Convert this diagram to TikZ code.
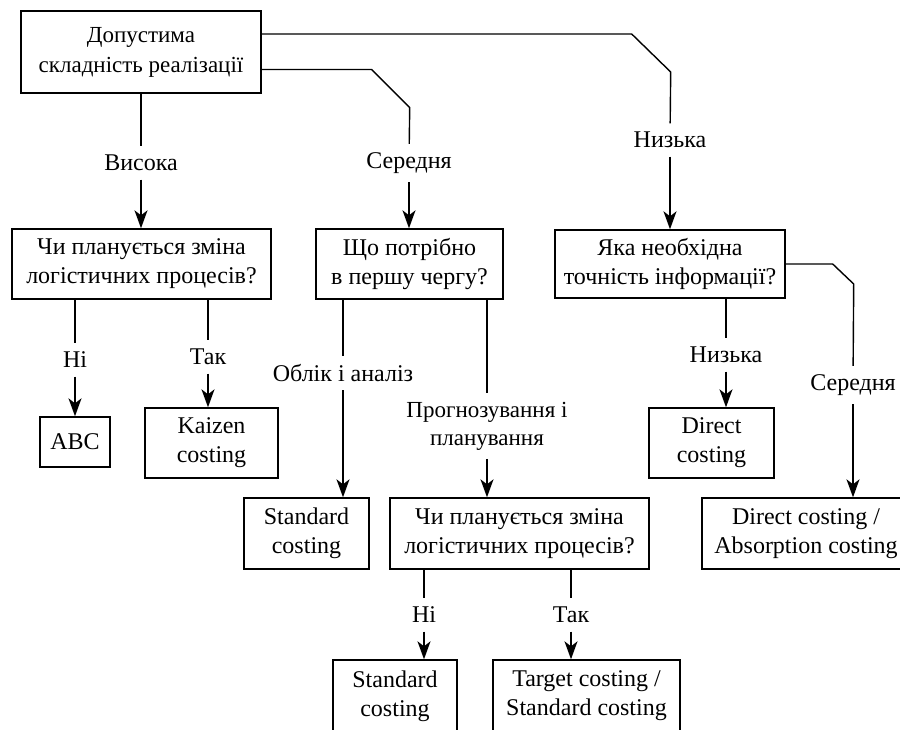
\documentclass[tikz,border=0pt]{standalone}
\usepackage{fontspec}
\setmainfont{Liberation Serif}
\usetikzlibrary{arrows.meta}

\tikzset{
  box/.style={draw, align=center, inner sep=1pt,
    font=\fontsize{12}{14.5}\selectfont},
  lbl/.style={align=center, inner sep=4pt,
    font=\fontsize{12}{14}\selectfont},
  arr/.style={-{Stealth[length=9pt,width=6.5pt,inset=2.5pt]}}
}

\begin{document}
\begin{tikzpicture}[x=0.5pt, y=-0.5pt, line width=0.7pt]
    \useasboundingbox (0,0) rectangle (900,729);
    \clip (0,0) rectangle (900,729);

    % boxes
    \node[box, minimum width=120pt, minimum height=41pt,
      font=\fontsize{11.5}{15}\selectfont] (top) at (141,52)
      {Допустима\\складність реалізації};
    \node[box, minimum width=129.5pt, minimum height=35pt] (qChange) at (141.5,264)
      {Чи планується зміна\\логістичних процесів?};
    \node[box, minimum width=93.5pt, minimum height=35pt] (qFirst) at (409.5,264)
      {Що потрібно\\в першу чергу?};
    \node[box, minimum width=115pt, minimum height=34pt] (qPrec) at (670,264)
      {Яка необхідна\\точність інформації?};
    \node[box, minimum width=35pt, minimum height=25pt] (abc) at (75,442) {ABC};
    \node[box, minimum width=66.5pt, minimum height=35pt] (kaizen) at (211.5,443)
      {Kaizen\\costing};
    \node[box, minimum width=62.5pt, minimum height=35.5pt] (stdA) at (306.5,533.5)
      {Standard\\costing};
    \node[box, minimum width=129.5pt, minimum height=35.5pt] (qChangeB) at (519.5,533.5)
      {Чи планується зміна\\логістичних процесів?};
    \node[box, minimum width=62.5pt, minimum height=35pt] (direct) at (711.5,443)
      {Direct\\costing};
    \node[box, minimum width=104pt, minimum height=35.5pt] (dirAbs) at (806,533.5)
      {Direct costing /\\Absorption costing};
    \node[box, minimum width=62pt, minimum height=36pt] (stdB) at (395,696)
      {Standard\\costing};
    \node[box, minimum width=93.5pt, minimum height=36pt] (tgtStd) at (586.5,696)
      {Target costing /\\Standard costing};

    % labels
    \node[lbl] (lblHigh) at (141,163) {Висока};
    \node[lbl] (lblMidA) at (409,163) {Середня};
    \node[lbl] (lblLowA) at (670,140) {Низька};
    \node[lbl] (lblNoA) at (75,360) {Ні};
    \node[lbl] (lblYesA) at (208,357) {Так};
    \node[lbl] (lblAcc) at (343,373) {Облік і аналіз};
    \node[lbl, font=\fontsize{11.5}{14}\selectfont] (lblPlan) at (487,426)
      {Прогнозування і\\планування};
    \node[lbl] (lblLowC) at (726,355) {Низька};
    \node[lbl] (lblMidC) at (853,385) {Середня};
    \node[lbl] (lblNoB) at (424,615) {Ні};
    \node[lbl] (lblYesB) at (571,615) {Так};

    % connectors
    \draw (top.south -| lblHigh) -- (lblHigh);
    \draw[arr] (lblHigh) -- (lblHigh |- qChange.north);
    \draw ([yshift=-8.75pt]top.east) -- ++(110,0) -- ++(38,38) -- (lblMidA);
    \draw[arr] (lblMidA) -- (lblMidA |- qFirst.north);
    \draw ([yshift=9pt]top.east) -- ++(370,0) -- ++(39,38) -- (lblLowA);
    \draw[arr] (lblLowA) -- (lblLowA |- qPrec.north);

    \draw (qChange.south -| lblNoA) -- (lblNoA);
    \draw[arr] (lblNoA) -- (lblNoA |- abc.north);
    \draw (qChange.south -| lblYesA) -- (lblYesA);
    \draw[arr] (lblYesA) -- (lblYesA |- kaizen.north);

    \draw (qFirst.south -| lblAcc) -- (lblAcc);
    \draw[arr] (lblAcc) -- (lblAcc |- stdA.north);
    \draw (qFirst.south -| lblPlan) -- (lblPlan);
    \draw[arr] (lblPlan) -- (lblPlan |- qChangeB.north);

    \draw (qPrec.south -| lblLowC) -- (lblLowC);
    \draw[arr] (lblLowC) -- (lblLowC |- direct.north);
    \draw (qPrec.east) -- ++(47,0) -- ++(21,20) -- (lblMidC);
    \draw[arr] (lblMidC) -- (lblMidC |- dirAbs.north);

    \draw (qChangeB.south -| lblNoB) -- (lblNoB);
    \draw[arr] (lblNoB) -- (lblNoB |- stdB.north);
    \draw (qChangeB.south -| lblYesB) -- (lblYesB);
    \draw[arr] (lblYesB) -- (lblYesB |- tgtStd.north);
\end{tikzpicture}
\end{document}
